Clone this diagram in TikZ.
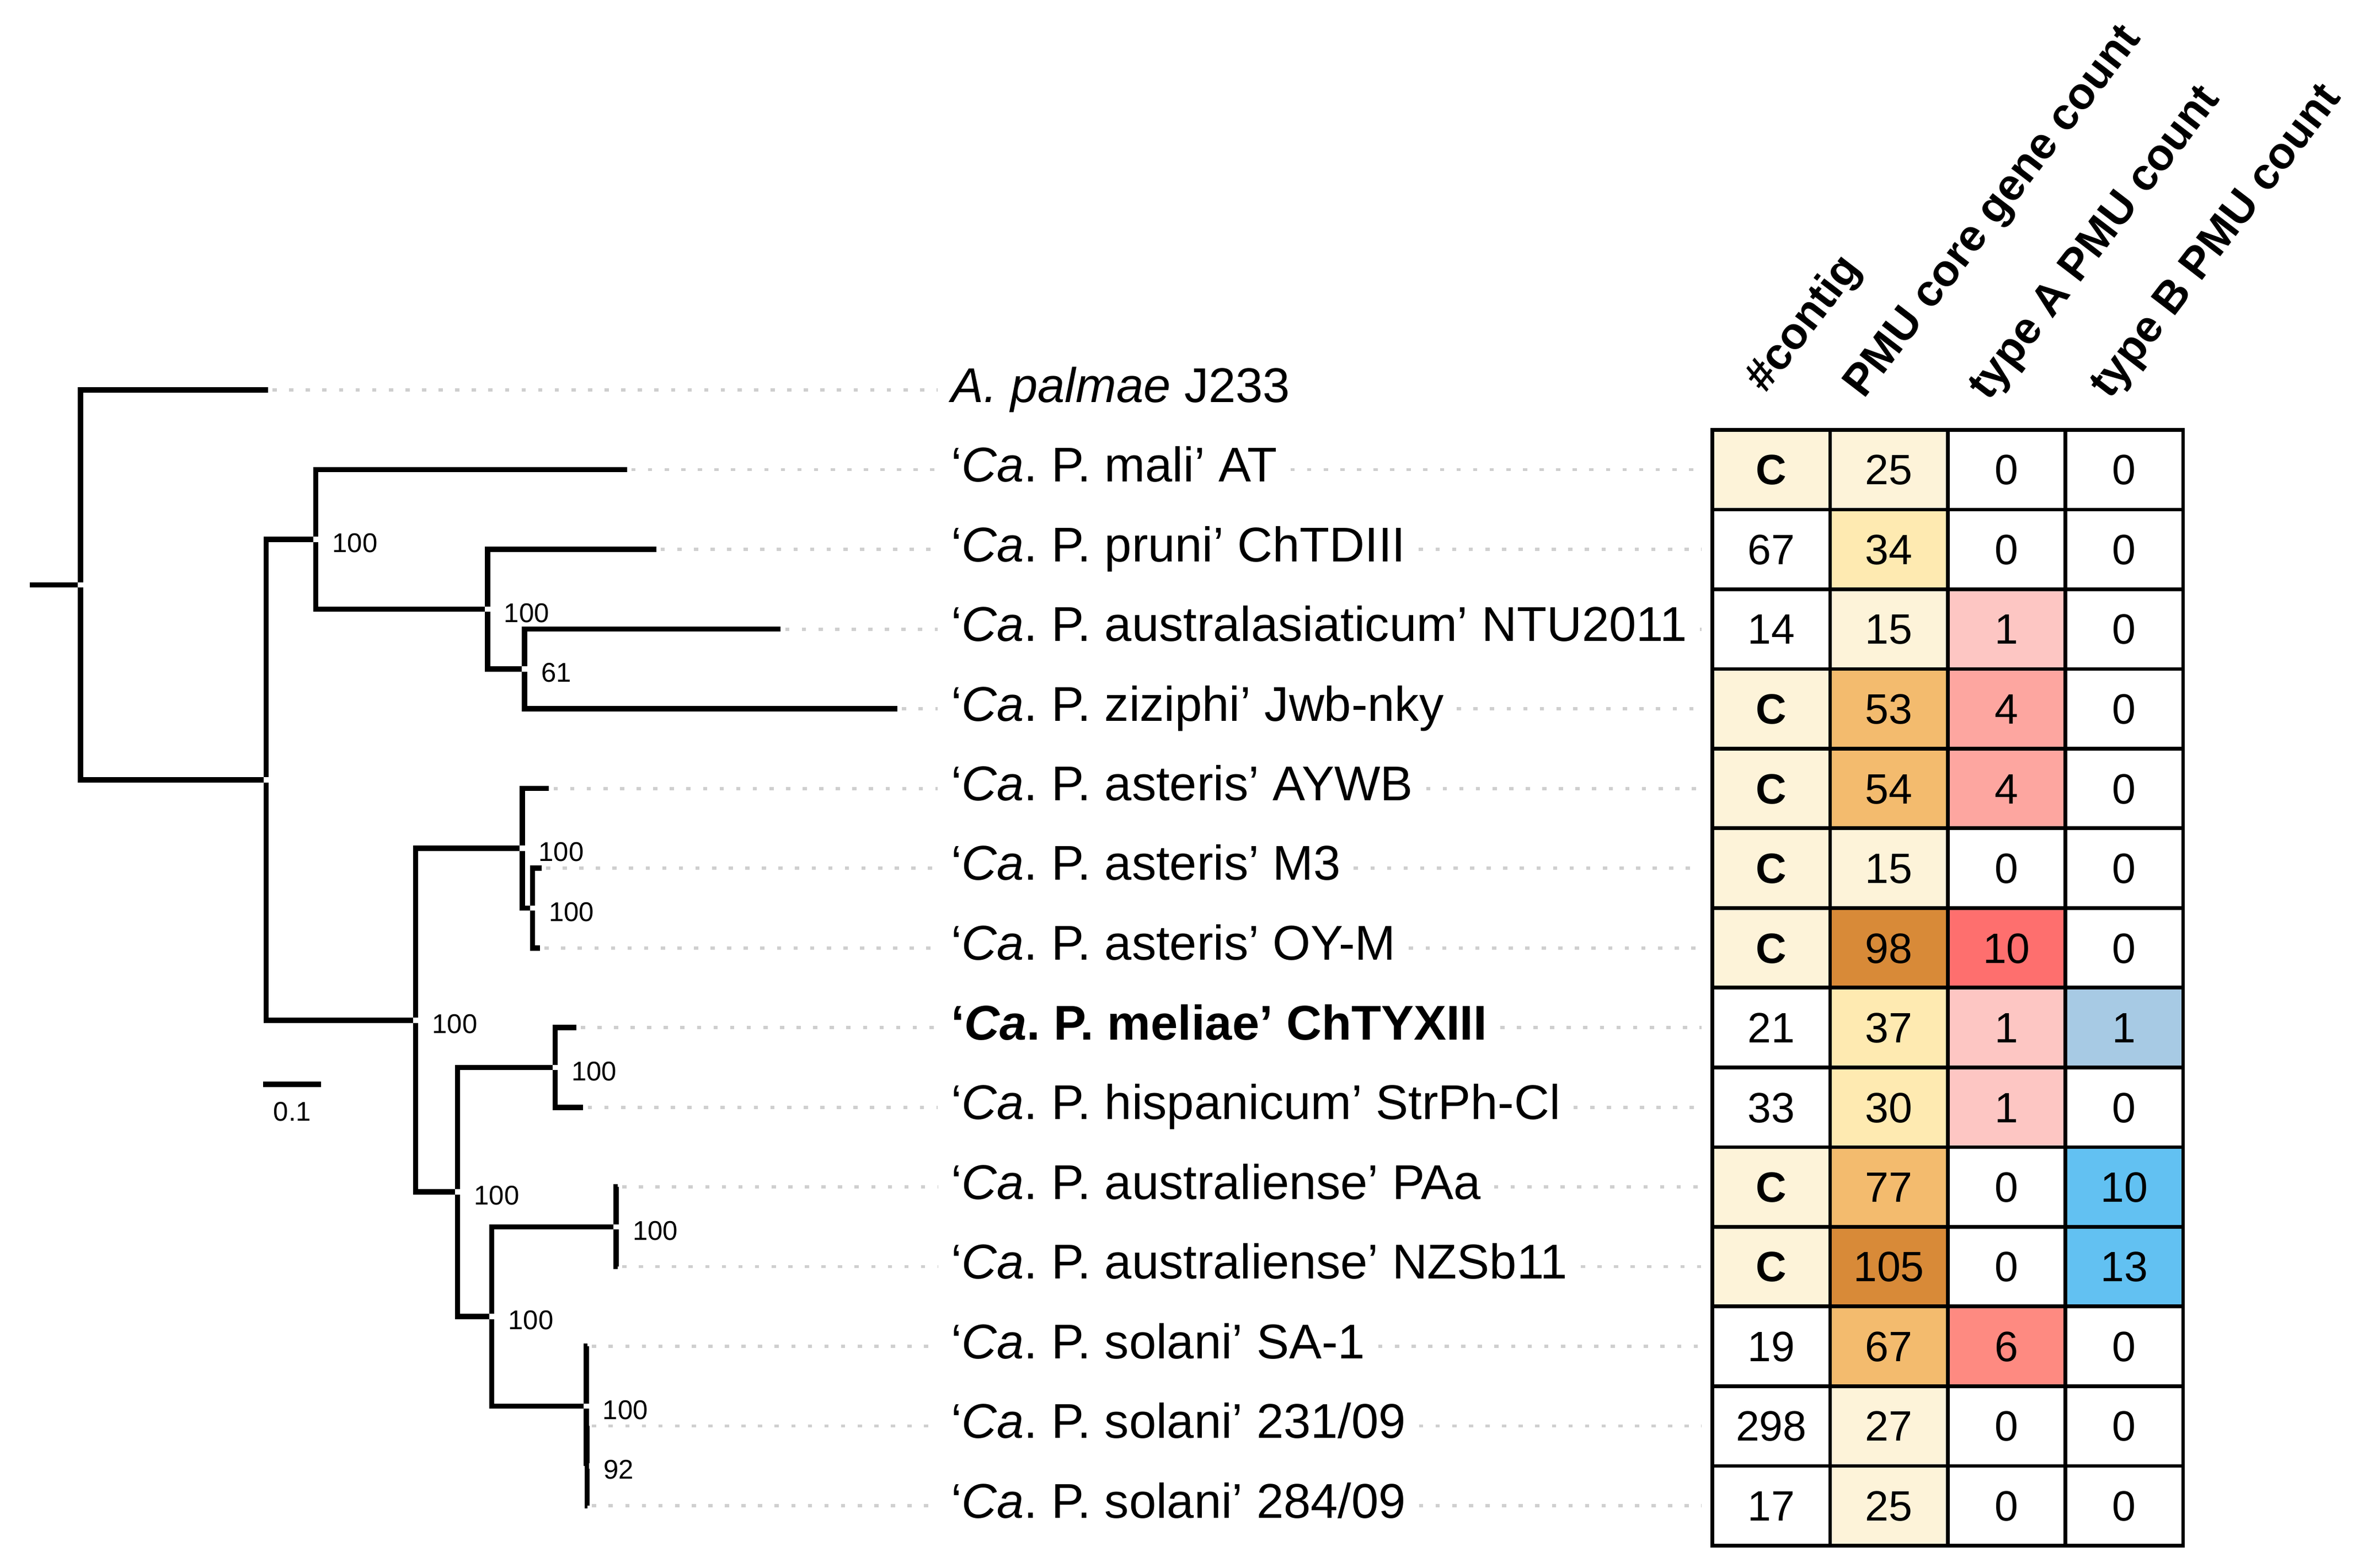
\documentclass[tikz,border=0pt]{standalone}
\usepackage{fontspec}
\setmainfont{Liberation Sans}
\frenchspacing
\definecolor{cream}{HTML}{FDF3D9}
\definecolor{lyellow}{HTML}{FEEAB1}
\definecolor{orange}{HTML}{F3BB6E}
\definecolor{dorange}{HTML}{D88A38}
\definecolor{pinkA}{HTML}{FDC6C3}
\definecolor{pinkB}{HTML}{FDA6A0}
\definecolor{pinkC}{HTML}{FE8A81}
\definecolor{redA}{HTML}{FE6F6E}
\definecolor{lblue}{HTML}{A7CAE4}
\definecolor{sblue}{HTML}{62C1F2}
\begin{document}
\begin{tikzpicture}[x=0.01cm, y=-0.01cm,
  branch/.style={line width=1pt},
  inner/.style={inner sep=0pt, outer sep=0pt},
  boot/.style={font=\fontsize{5.1}{6}\selectfont, inner sep=0pt, label distance=0.085cm, yshift=-0.025cm},
  leader/.style={draw=black!19, line width=0.6pt, dash pattern=on 0.028cm off 0.082cm},
  taxon/.style={anchor=west, inner xsep=0.08cm, inner ysep=0pt, text height=0.23cm, text depth=0.07cm, font=\fontsize{9.2}{11}\selectfont},
  cell/.style={draw, line width=0.7pt, fill=white, minimum width=0.78cm, minimum height=0.5284cm, inner sep=0pt, outer sep=0pt, text height=0.2cm, text depth=0cm, font=\fontsize{8}{10}\selectfont},
  head/.style={anchor=base west, rotate=52.5, inner sep=0pt, font=\bfseries\fontsize{8.4}{10}\selectfont}]
  \useasboundingbox (0,0) rectangle (1560,1039.6);

  % tips
  \coordinate (t0) at (177.7,258.6);
  \coordinate (t1) at (415.6,311.4);
  \coordinate (t2) at (435,364.3);
  \coordinate (t3) at (517.6,417.1);
  \coordinate (t4) at (595,470.0);
  \coordinate (t5) at (364,522.8);
  \coordinate (t6) at (359,575.6);
  \coordinate (t7) at (358,628.5);
  \coordinate (t8) at (382,681.3);
  \coordinate (t9) at (386.7,734.2);
  \coordinate (t10) at (409.5,787.0);
  \coordinate (t11) at (409.5,839.8);
  \coordinate (t12) at (389.5,892.7);
  \coordinate (t13) at (389.5,945.5);
  \coordinate (t14) at (389.5,998.4);

  % internal nodes
  \coordinate (s) at (19.8,387.8);
  \node[inner] (r) at (53.5,387.8) {};
  \node[inner] (n1) at (176.5,517) {};
  \node[inner, label={[boot]0:100}] (n2) at (209.4,357.7) {};
  \node[inner, label={[boot]0:100}] (n3) at (323.2,403.9) {};
  \node[inner, label={[boot]0:61}] (n4) at (347.8,443.6) {};
  \node[inner, label={[boot]0:100}] (n5) at (275.6,676.4) {};
  \node[inner, label={[boot]0:100}] (n6) at (346.2,562.4) {};
  \node[inner, label={[boot]0:100}] (n7) at (353,602.1) {};
  \node[inner, label={[boot]0:100}] (n8) at (303.4,790.3) {};
  \node[inner, label={[boot]0:100}] (n9) at (368,707.8) {};
  \node[inner, label={[boot]0:100}] (n10) at (326,872.9) {};
  \node[inner, label={[boot]0:100}] (n11) at (408.5,813.4) {};
  \node[inner, label={[boot]0:100}] (n12) at (388.7,932.3) {};
  \node[inner, label={[boot]0:92}] (n13) at (389.2,972) {};

  \draw[branch] (s) -- (r);
  \draw[branch] (r) |- (t0);
  \draw[branch] (r) |- (n1);
  \draw[branch] (n1) |- (n2);
  \draw[branch] (n1) |- (n5);
  \draw[branch] (n2) |- (t1);
  \draw[branch] (n2) |- (n3);
  \draw[branch] (n3) |- (t2);
  \draw[branch] (n3) |- (n4);
  \draw[branch] (n4) |- (t3);
  \draw[branch] (n4) |- (t4);
  \draw[branch] (n5) |- (n6);
  \draw[branch] (n5) |- (n8);
  \draw[branch] (n6) |- (t5);
  \draw[branch] (n6) |- (n7);
  \draw[branch] (n7) |- (t6);
  \draw[branch] (n7) |- (t7);
  \draw[branch] (n8) |- (n9);
  \draw[branch] (n8) |- (n10);
  \draw[branch] (n9) |- (t8);
  \draw[branch] (n9) |- (t9);
  \draw[branch] (n10) |- (n11);
  \draw[branch] (n10) |- (n12);
  \draw[branch] (n11) |- (t10);
  \draw[branch] (n11) |- (t11);
  \draw[branch] (n12) |- (t12);
  \draw[branch] (n12) |- (n13);
  \draw[branch] (n13) |- (t13);
  \draw[branch] (n13) |- (t14);

  % scale bar
  \coordinate (sb1) at (174.5,719);
  \coordinate (sb2) at (213,719);
  \draw[branch] (sb1) -- (sb2) node[midway, below=0.1cm, inner sep=0pt, font=\fontsize{5.1}{6}\selectfont] (sbl) {0.1};

  % taxa
  \node[taxon] (l0) at (621.8,258.6) {\textit{A. palmae} J233};
  \node[taxon] (l1) at (621.8,311.4) {‘\textit{Ca}. P. mali’ AT};
  \node[taxon] (l2) at (621.8,364.3) {‘\textit{Ca}. P. pruni’ ChTDIII};
  \node[taxon] (l3) at (621.8,417.1) {‘\textit{Ca}. P. australasiaticum’ NTU2011};
  \node[taxon] (l4) at (621.8,470.0) {‘\textit{Ca}. P. ziziphi’ Jwb-nky};
  \node[taxon] (l5) at (621.8,522.8) {‘\textit{Ca}. P. asteris’ AYWB};
  \node[taxon] (l6) at (621.8,575.6) {‘\textit{Ca}. P. asteris’ M3};
  \node[taxon] (l7) at (621.8,628.5) {‘\textit{Ca}. P. asteris’ OY-M};
  \node[taxon] (l8) at (621.8,681.3) {\textbf{‘\textit{Ca}. P. meliae’ ChTYXIII}};
  \node[taxon] (l9) at (621.8,734.2) {‘\textit{Ca}. P. hispanicum’ StrPh-Cl};
  \node[taxon] (l10) at (621.8,787.0) {‘\textit{Ca}. P. australiense’ PAa};
  \node[taxon] (l11) at (621.8,839.8) {‘\textit{Ca}. P. australiense’ NZSb11};
  \node[taxon] (l12) at (621.8,892.7) {‘\textit{Ca}. P. solani’ SA-1};
  \node[taxon] (l13) at (621.8,945.5) {‘\textit{Ca}. P. solani’ 231/09};
  \node[taxon] (l14) at (621.8,998.4) {‘\textit{Ca}. P. solani’ 284/09};

  % headers
  \node[head] (hc) at (1170,262) {\#contig};
  \node[head] (hp) at (1235.5,265.6) {PMU core gene count};
  \node[head] (ha) at (1318,267) {type A PMU count};
  \node[head] (hb) at (1398.5,266) {type B PMU count};

  % table
  \node[cell, fill=cream] (c1a) at (1174.3,311.4) {\textbf{C}};
  \node[cell, fill=cream] (c1b) at (1252.3,311.4) {25};
  \node[cell] (c1c) at (1330.3,311.4) {0};
  \node[cell] (c1d) at (1408.3,311.4) {0};
  \node[cell] (c2a) at (1174.3,364.3) {67};
  \node[cell, fill=lyellow] (c2b) at (1252.3,364.3) {34};
  \node[cell] (c2c) at (1330.3,364.3) {0};
  \node[cell] (c2d) at (1408.3,364.3) {0};
  \node[cell] (c3a) at (1174.3,417.1) {14};
  \node[cell, fill=cream] (c3b) at (1252.3,417.1) {15};
  \node[cell, fill=pinkA] (c3c) at (1330.3,417.1) {1};
  \node[cell] (c3d) at (1408.3,417.1) {0};
  \node[cell, fill=cream] (c4a) at (1174.3,470.0) {\textbf{C}};
  \node[cell, fill=orange] (c4b) at (1252.3,470.0) {53};
  \node[cell, fill=pinkB] (c4c) at (1330.3,470.0) {4};
  \node[cell] (c4d) at (1408.3,470.0) {0};
  \node[cell, fill=cream] (c5a) at (1174.3,522.8) {\textbf{C}};
  \node[cell, fill=orange] (c5b) at (1252.3,522.8) {54};
  \node[cell, fill=pinkB] (c5c) at (1330.3,522.8) {4};
  \node[cell] (c5d) at (1408.3,522.8) {0};
  \node[cell, fill=cream] (c6a) at (1174.3,575.6) {\textbf{C}};
  \node[cell, fill=cream] (c6b) at (1252.3,575.6) {15};
  \node[cell] (c6c) at (1330.3,575.6) {0};
  \node[cell] (c6d) at (1408.3,575.6) {0};
  \node[cell, fill=cream] (c7a) at (1174.3,628.5) {\textbf{C}};
  \node[cell, fill=dorange] (c7b) at (1252.3,628.5) {98};
  \node[cell, fill=redA] (c7c) at (1330.3,628.5) {10};
  \node[cell] (c7d) at (1408.3,628.5) {0};
  \node[cell] (c8a) at (1174.3,681.3) {21};
  \node[cell, fill=lyellow] (c8b) at (1252.3,681.3) {37};
  \node[cell, fill=pinkA] (c8c) at (1330.3,681.3) {1};
  \node[cell, fill=lblue] (c8d) at (1408.3,681.3) {1};
  \node[cell] (c9a) at (1174.3,734.2) {33};
  \node[cell, fill=lyellow] (c9b) at (1252.3,734.2) {30};
  \node[cell, fill=pinkA] (c9c) at (1330.3,734.2) {1};
  \node[cell] (c9d) at (1408.3,734.2) {0};
  \node[cell, fill=cream] (c10a) at (1174.3,787.0) {\textbf{C}};
  \node[cell, fill=orange] (c10b) at (1252.3,787.0) {77};
  \node[cell] (c10c) at (1330.3,787.0) {0};
  \node[cell, fill=sblue] (c10d) at (1408.3,787.0) {10};
  \node[cell, fill=cream] (c11a) at (1174.3,839.8) {\textbf{C}};
  \node[cell, fill=dorange] (c11b) at (1252.3,839.8) {105};
  \node[cell] (c11c) at (1330.3,839.8) {0};
  \node[cell, fill=sblue] (c11d) at (1408.3,839.8) {13};
  \node[cell] (c12a) at (1174.3,892.7) {19};
  \node[cell, fill=orange] (c12b) at (1252.3,892.7) {67};
  \node[cell, fill=pinkC] (c12c) at (1330.3,892.7) {6};
  \node[cell] (c12d) at (1408.3,892.7) {0};
  \node[cell] (c13a) at (1174.3,945.5) {298};
  \node[cell, fill=cream] (c13b) at (1252.3,945.5) {27};
  \node[cell] (c13c) at (1330.3,945.5) {0};
  \node[cell] (c13d) at (1408.3,945.5) {0};
  \node[cell] (c14a) at (1174.3,998.4) {17};
  \node[cell, fill=cream] (c14b) at (1252.3,998.4) {25};
  \node[cell] (c14c) at (1330.3,998.4) {0};
  \node[cell] (c14d) at (1408.3,998.4) {0};

  % leaders
  \draw[leader, shorten <=0.03cm] (t0) -- (l0.west);
  \draw[leader, shorten <=0.03cm] (t1) -- (l1.west);
  \draw[leader, shorten <=0.03cm] (t2) -- (l2.west);
  \draw[leader, shorten <=0.03cm] (t3) -- (l3.west);
  \draw[leader, shorten <=0.03cm] (t4) -- (l4.west);
  \draw[leader, shorten <=0.03cm] (t5) -- (l5.west);
  \draw[leader, shorten <=0.03cm] (t6) -- (l6.west);
  \draw[leader, shorten <=0.03cm] (t7) -- (l7.west);
  \draw[leader, shorten <=0.03cm] (t8) -- (l8.west);
  \draw[leader, shorten <=0.03cm] (t9) -- (l9.west);
  \draw[leader, shorten <=0.03cm] (t10) -- (l10.west);
  \draw[leader, shorten <=0.03cm] (t11) -- (l11.west);
  \draw[leader, shorten <=0.03cm] (t12) -- (l12.west);
  \draw[leader, shorten <=0.03cm] (t13) -- (l13.west);
  \draw[leader, shorten <=0.03cm] (t14) -- (l14.west);

  \draw[leader, shorten >=0.07cm] (l1.east) -- (c1a.west);
  \draw[leader, shorten >=0.07cm] (l2.east) -- (c2a.west);
  \draw[leader, shorten >=0.07cm] (l3.east) -- (c3a.west);
  \draw[leader, shorten >=0.07cm] (l4.east) -- (c4a.west);
  \draw[leader, shorten >=0.07cm] (l5.east) -- (c5a.west);
  \draw[leader, shorten >=0.07cm] (l6.east) -- (c6a.west);
  \draw[leader, shorten >=0.07cm] (l7.east) -- (c7a.west);
  \draw[leader, shorten >=0.07cm] (l8.east) -- (c8a.west);
  \draw[leader, shorten >=0.07cm] (l9.east) -- (c9a.west);
  \draw[leader, shorten >=0.07cm] (l10.east) -- (c10a.west);
  \draw[leader, shorten >=0.07cm] (l11.east) -- (c11a.west);
  \draw[leader, shorten >=0.07cm] (l12.east) -- (c12a.west);
  \draw[leader, shorten >=0.07cm] (l13.east) -- (c13a.west);
  \draw[leader, shorten >=0.07cm] (l14.east) -- (c14a.west);
\end{tikzpicture}
\end{document}
